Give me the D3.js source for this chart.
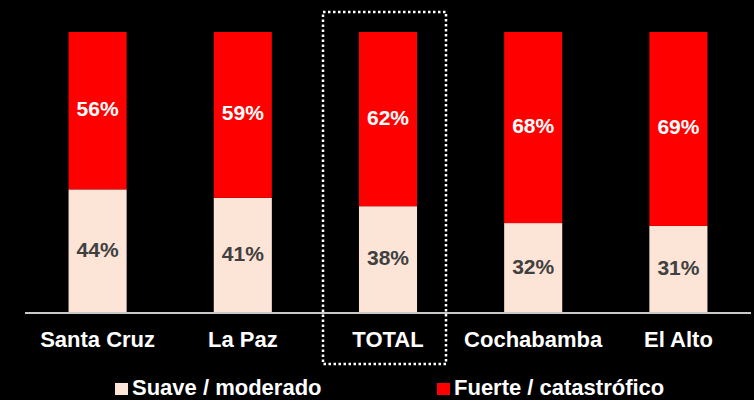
<!DOCTYPE html>
<html>
<head>
<meta charset="utf-8">
<script src="https://cdn.jsdelivr.net/npm/d3@7"></script>
<style>
  html, body { margin: 0; padding: 0; background: #000; }
  svg { display: block; font-family: "Liberation Sans", Arial, sans-serif; font-weight: bold; }
</style>
</head>
<body>
<svg width="754" height="400"></svg>
<script>
var categories = ["Santa Cruz", "La Paz", "TOTAL", "Cochabamba", "El Alto"];
var suave = [44, 41, 38, 32, 31];
var fuerte = [56, 59, 62, 68, 69];
var seriesNames = ["Suave / moderado", "Fuerte / catastrófico"];
var seriesColors = ["#fce4d6", "#ff0000"];
var labelColors = ["#404040", "#ffffff"];
var highlight = "TOTAL";

var svg = d3.select("svg"),
    width = +svg.attr("width"),
    height = +svg.attr("height");

var margin = {top: 32, right: 3, bottom: 87, left: 25};

var x = d3.scaleBand()
    .domain(categories)
    .range([margin.left, width - margin.right])
    .paddingInner(0.6)
    .paddingOuter(0.3);

var y = d3.scaleLinear()
    .domain([0, 100])
    .range([height - margin.bottom, margin.top]);

var rows = categories.map(function(c, i) {
  return {cat: c, suave: suave[i], fuerte: fuerte[i]};
});

var stack = d3.stack().keys(["suave", "fuerte"]);
var layers = stack(rows);

var g = svg.append("g");

layers.forEach(function(layer, li) {
  g.append("g")
    .selectAll("rect")
    .data(layer)
    .enter().append("rect")
      .attr("x", function(d) { return x(d.data.cat); })
      .attr("y", function(d) { return y(d[1]); })
      .attr("width", x.bandwidth())
      .attr("height", function(d) { return y(d[0]) - y(d[1]); })
      .attr("fill", seriesColors[li]);

  g.append("g")
    .selectAll("text")
    .data(layer)
    .enter().append("text")
      .attr("x", function(d) { return x(d.data.cat) + x.bandwidth() / 2; })
      .attr("y", function(d) { return (y(d[0]) + y(d[1])) / 2; })
      .attr("dy", "0.26em")
      .attr("text-anchor", "middle")
      .attr("font-size", 21)
      .attr("fill", labelColors[li])
      .text(function(d) { return (d[1] - d[0]) + "%"; });
});

// axis line + category labels
var xAxis = svg.append("g")
    .attr("transform", "translate(0," + y(0) + ")")
    .call(d3.axisBottom(x).tickSize(0).tickPadding(18));
xAxis.select(".domain").attr("stroke", "#c8c8c8").attr("stroke-width", 2)
    .attr("d", "M" + margin.left + ",0H" + (width - margin.right));
xAxis.selectAll("text")
    .attr("fill", "#fff")
    .attr("font-size", 22)
    .attr("font-family", "Liberation Sans, Arial, sans-serif")
    .attr("font-weight", "bold");

// dotted box round TOTAL
var cx = x(highlight) + x.bandwidth() / 2;
svg.append("rect")
    .attr("x", cx - 65)
    .attr("y", 12)
    .attr("width", 123)
    .attr("height", 352)
    .attr("fill", "none")
    .attr("stroke", "#fff")
    .attr("stroke-width", 2.5)
    .attr("stroke-dasharray", "2.5,2.5");

// legend
var legendX = [115, 437];
var legend = svg.append("g")
  .selectAll("g")
  .data(seriesNames)
  .enter().append("g")
    .attr("transform", function(d, i) { return "translate(" + legendX[i] + ",383)"; });

legend.append("rect")
    .attr("width", 13)
    .attr("height", 12)
    .attr("fill", function(d, i) { return seriesColors[i]; });

legend.append("text")
    .attr("x", 17)
    .attr("y", 12)
    .attr("fill", "#fff")
    .attr("font-size", 22)
    .text(function(d) { return d; });
</script>
</body>
</html>
